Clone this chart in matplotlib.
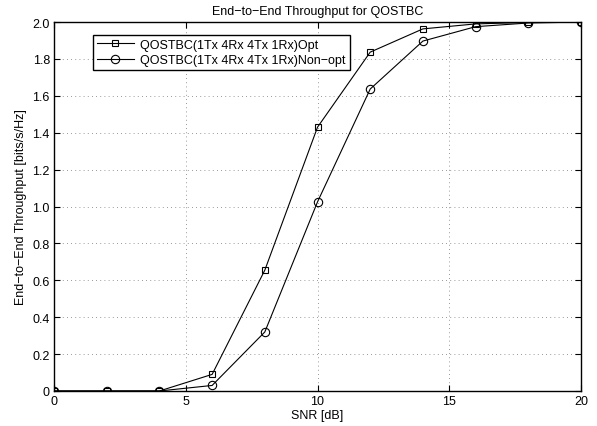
import numpy as np
import matplotlib
matplotlib.use("Agg")
import matplotlib.pyplot as plt
from matplotlib.ticker import FuncFormatter

# SNR points and throughput values
snr = [0, 2, 4, 6, 8, 10, 12, 14, 16, 18, 20]
thr_opt = [0, 0, 0, 0.09, 0.655, 1.43, 1.837, 1.963, 1.99, 1.998, 2.0]
thr_nonopt = [0, 0, 0, 0.03, 0.32, 1.025, 1.637, 1.897, 1.975, 1.995, 2.0]

labels = ['QOSTBC(1Tx 4Rx 4Tx 1Rx)Opt', 'QOSTBC(1Tx 4Rx 4Tx 1Rx)Non\u2212opt']

plt.rcParams['font.family'] = ['Liberation Sans', 'DejaVu Sans']
plt.rcParams['font.size'] = 9

fig = plt.figure(figsize=(5.97, 4.27), dpi=100)
ax = fig.add_axes([0.0905, 0.082, 0.8827, 0.864])

ax.plot(snr, thr_opt, color='black', linewidth=0.8, marker='s',
        markersize=4.5, markerfacecolor='none', markeredgewidth=0.8, label=labels[0])
ax.plot(snr, thr_nonopt, color='black', linewidth=0.8, marker='o',
        markersize=6, markerfacecolor='none', markeredgewidth=0.8, label=labels[1])

ax.set_xlim(0, 20)
ax.set_ylim(0, 2.0)
ax.set_xticks([0, 5, 10, 15, 20])
ax.set_yticks(np.arange(0, 2.01, 0.2))
ax.yaxis.set_major_formatter(FuncFormatter(lambda v, p: '0' if abs(v) < 1e-9 else f'{v:.1f}'))
ax.tick_params(direction='in', top=True, right=True, length=4, width=0.8, pad=3)
ax.grid(True, linestyle=(0, (1, 4)), color='#777777', linewidth=0.6)
for s in ax.spines.values():
    s.set_linewidth(1.0)

ax.set_title('End\u2212to\u2212End Throughput for QOSTBC', fontsize=9, pad=6)
ax.set_xlabel('SNR [dB]', labelpad=1)
ax.set_ylabel('End\u2212to\u2212End Throughput [bits/s/Hz]', labelpad=4)

leg = ax.legend(loc='upper left', bbox_to_anchor=(0.062, 0.982), fancybox=False,
                framealpha=1, edgecolor='black', handlelength=3.0,
                borderpad=0.3, labelspacing=0.3, handletextpad=0.5)
leg.get_frame().set_linewidth(1.0)

plt.savefig('out.png', dpi=100)
